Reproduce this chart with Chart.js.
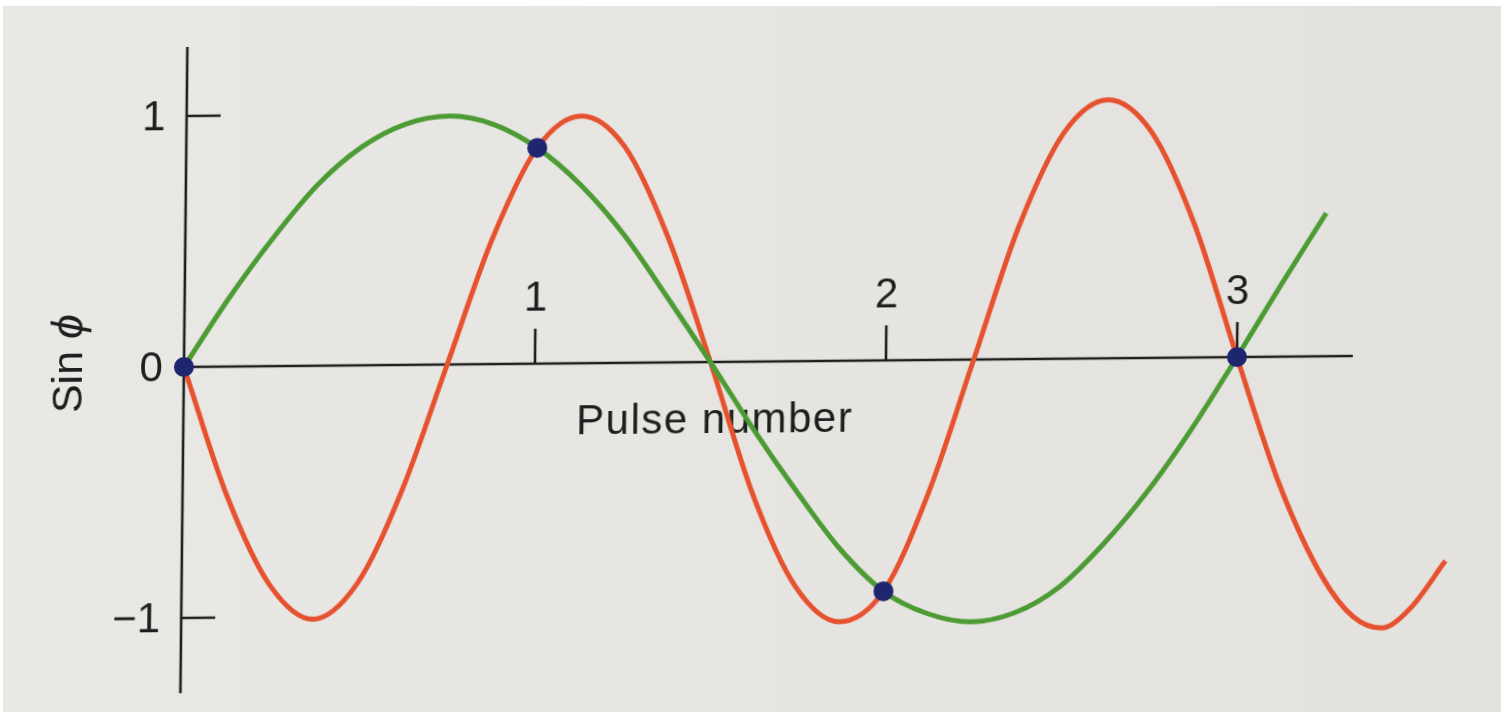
<!DOCTYPE html>
<html>
<head>
<meta charset="utf-8">
<title>Sin phi vs pulse number</title>
<script src="https://cdn.jsdelivr.net/npm/chart.js@4.4.1/dist/chart.umd.min.js"></script>
<style>
  html, body { margin: 0; padding: 0; background: #fff; width: 1501px; height: 712px; overflow: hidden; }
  #paper { position: absolute; left: 3px; top: 6px; right: 0; bottom: 0;
           background: linear-gradient(to right, #e9e8e5, #e4e2de); }
  /* the printed figure sits at a slight slant on the page */
  #plot { position: absolute; left: 0; top: 0;
          transform-origin: 184px 367px; transform: matrix(1, -0.0094, -0.0108, 1, 0, 0); }
</style>
</head>
<body>
<div id="paper"></div>
<canvas id="plot" width="1501" height="712"></canvas>
<script>
// Two sampled sinusoids that give the same value at every pulse (aliasing),
// drawn on hand-made axes: Sin phi against pulse number.

const PULSE_TICKS = [1, 2, 3];
const SIN_TICKS = [1, 0, -1];
const SIN_TICK_LABELS = ["1", "0", "\u22121"];

// slow wave (green)
const GREEN_PULSE = [0, 0.125, 0.25, 0.375, 0.5, 0.625, 0.75, 0.875, 1, 1.125, 1.25, 1.375, 1.5,
  1.625, 1.75, 1.875, 2, 2.125, 2.25, 2.375, 2.5, 2.625, 2.75, 2.875, 3, 3.125, 3.25];
const GREEN_SIN = [0, 0.27, 0.51, 0.72, 0.87, 0.96, 0.99, 0.955, 0.86, 0.71, 0.51, 0.26, 0,
  -0.27, -0.52, -0.75, -0.92, -1.01, -1.045, -1.01, -0.91, -0.74, -0.53, -0.28, 0, 0.29, 0.57];

// fast wave (red)
const RED_PULSE = [0, 0.125, 0.25, 0.375, 0.5, 0.625, 0.75, 0.875, 1, 1.125, 1.25, 1.375, 1.5,
  1.625, 1.75, 1.875, 2, 2.125, 2.25, 2.375, 2.5, 2.625, 2.75, 2.875, 3, 3.125, 3.25, 3.34, 3.42, 3.5, 3.6];
const RED_SIN = [0, -0.51, -0.87, -1.01, -0.87, -0.5, 0, 0.5, 0.86, 0.985, 0.86, 0.5, 0,
  -0.53, -0.9, -1.04, -0.92, -0.53, 0, 0.53, 0.9, 1.03, 0.9, 0.53, 0, -0.51, -0.88, -1.04, -1.085, -1.01, -0.82];

// the samples actually taken, one per pulse
const SAMPLE_PULSE = [0, 1, 2, 3];
const SAMPLE_SIN = [0, 0.86, -0.92, 0];

// how far the drawn axis lines reach
const PULSE_AXIS_END = 3.33;
const SIN_AXIS_TOP = 1.275;
const SIN_AXIS_BOTTOM = -1.3;

const INK = "#1e1e1e";
const FONT = '"Liberation Sans", Arial, Helvetica, sans-serif';

function points(xs, ys) {
  return xs.map((x, i) => ({ x, y: ys[i] }));
}

const axesPlugin = {
  id: "pulseAxes",
  beforeDatasetsDraw(chart) {
    const { ctx, scales: { x, y } } = chart;
    const x0 = x.getPixelForValue(0);
    const y0 = y.getPixelForValue(0);
    ctx.save();
    ctx.strokeStyle = INK;
    ctx.lineWidth = 2.6;
    ctx.beginPath();
    ctx.moveTo(x0, y.getPixelForValue(SIN_AXIS_TOP));
    ctx.lineTo(x0, y.getPixelForValue(SIN_AXIS_BOTTOM));
    ctx.moveTo(x0, y0);
    ctx.lineTo(x.getPixelForValue(PULSE_AXIS_END), y0);
    SIN_TICKS.forEach(v => {
      if (v === 0) return;
      const py = y.getPixelForValue(v);
      ctx.moveTo(x0, py);
      ctx.lineTo(x0 + 34, py);
    });
    PULSE_TICKS.forEach(p => {
      const px = x.getPixelForValue(p);
      ctx.moveTo(px, y0);
      ctx.lineTo(px, y0 - 35);
    });
    ctx.stroke();

    ctx.fillStyle = INK;
    ctx.font = "42px " + FONT;
    ctx.textBaseline = "alphabetic";
    ctx.textAlign = "right";
    SIN_TICKS.forEach((v, i) => ctx.fillText(SIN_TICK_LABELS[i], x0 - 21, y.getPixelForValue(v) + 14));
    ctx.textAlign = "center";
    PULSE_TICKS.forEach(p => ctx.fillText(String(p), x.getPixelForValue(p), y0 - 53));
    ctx.letterSpacing = "1.5px";
    ctx.fillText("Pulse number", x.getPixelForValue(1.514), y0 + 71);
    ctx.letterSpacing = "0px";

    // rotated y title: "Sin " upright, phi in italics
    ctx.translate(x0 - 102, y0 - 4.5);
    ctx.rotate(-Math.PI / 2);
    const word = "Sin ";
    const sym = "\u03D5";
    ctx.font = "43px " + FONT;
    const w1 = ctx.measureText(word).width;
    ctx.font = "italic 45px " + FONT;
    const w2 = ctx.measureText(sym).width;
    ctx.textAlign = "left";
    ctx.font = "43px " + FONT;
    ctx.fillText(word, -(w1 + w2) / 2, 0);
    ctx.font = "italic 45px " + FONT;
    ctx.fillText(sym, -(w1 + w2) / 2 + w1, 0);
    ctx.restore();
  }
};

new Chart(document.getElementById("plot"), {
  type: "line",
  data: {
    datasets: [
      {
        label: "Samples",
        data: points(SAMPLE_PULSE, SAMPLE_SIN),
        showLine: false,
        pointRadius: 10,
        pointBackgroundColor: "#1f2670",
        pointBorderColor: "#1f2670",
        pointBorderWidth: 0,
      },
      {
        label: "Slow wave",
        data: points(GREEN_PULSE, GREEN_SIN),
        borderColor: "#4d9b35",
        borderWidth: 5,
        pointRadius: 0,
        cubicInterpolationMode: "monotone",
      },
      {
        label: "Fast wave",
        data: points(RED_PULSE, RED_SIN),
        borderColor: "#e6522f",
        borderWidth: 5,
        pointRadius: 0,
        cubicInterpolationMode: "monotone",
      },
    ],
  },
  options: {
    responsive: false,
    animation: false,
    devicePixelRatio: 1,
    events: [],
    layout: { padding: 0, autoPadding: false },
    plugins: { legend: { display: false }, tooltip: { enabled: false } },
    scales: {
      x: { type: "linear", display: false, min: -0.524, max: 3.752 },
      y: { type: "linear", display: false, min: -1.3745, max: 1.4622 },
    },
  },
  plugins: [axesPlugin],
});
</script>
</body>
</html>
